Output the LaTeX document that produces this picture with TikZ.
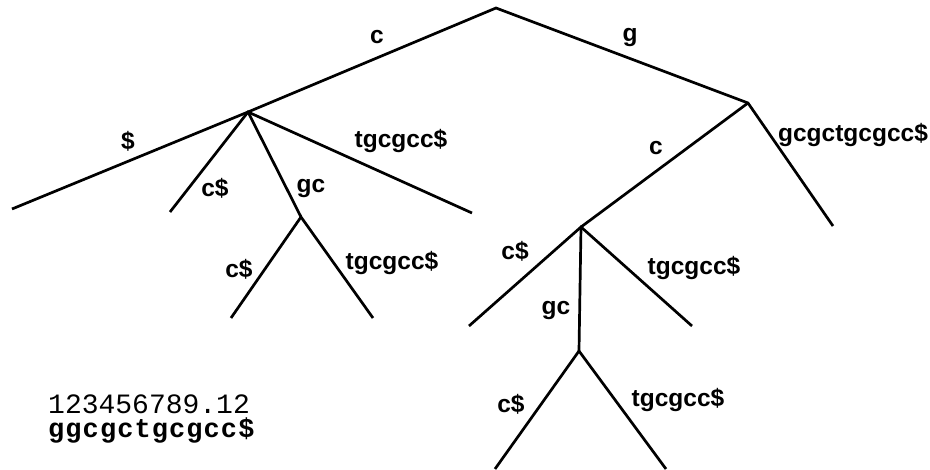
\documentclass[tikz,border=0pt]{standalone}
\usepackage{fontspec}
\setmainfont{Liberation Sans}
\newfontfamily\monofont{Liberation Mono}
\newfontfamily\monoboldfont[LetterSpace=4]{Liberation Mono Bold}
\tikzset{
  edge/.style={line width=2.7pt, line cap=butt, line join=miter},
  lbl/.style={font=\fontsize{24.5}{24.5}\selectfont\bfseries, anchor=base, inner sep=0pt},
  mono/.style={font=\fontsize{28}{28}\monofont, anchor=base west, inner sep=0pt},
  monob/.style={font=\fontsize{27}{27}\monoboldfont, anchor=base west, inner sep=0pt}
}
\begin{document}
\begin{tikzpicture}[x=1pt,y=-1pt]
\useasboundingbox (0,0) rectangle (930,470);
% tree nodes
\coordinate (R) at (496,8);
\coordinate (A) at (248,112);
\coordinate (B) at (748,103);
\coordinate (A2) at (301,217);
\coordinate (B2) at (581,227);
\coordinate (B3) at (579,351);
% leaves
\coordinate (l1) at (12,209);
\coordinate (l2) at (170,212);
\coordinate (l3) at (472,213);
\coordinate (l4) at (231,318);
\coordinate (l5) at (373,318);
\coordinate (l6) at (833,226);
\coordinate (l7) at (469,326);
\coordinate (l8) at (692,326);
\coordinate (l9) at (495,469);
\coordinate (l10) at (666,469);
% edges
\draw[edge] (l1) -- (A) -- (R) -- (B) -- (l6);
\draw[edge] (l2) -- (A) -- (l3);
\draw[edge] (A) -- (A2);
\draw[edge] (l4) -- (A2) -- (l5);
\draw[edge] (B) -- (B2);
\draw[edge] (l7) -- (B2) -- (l8);
\draw[edge] (B2) -- (B3);
\draw[edge] (l9) -- (B3) -- (l10);
% labels
\node[lbl] (tc) at (377,44) {c};
\node[lbl] (tg) at (630,42) {g};
\node[lbl] (td) at (128,150) {\$};
\node[lbl] (ta1) at (215,197) {c\$};
\node[lbl] (ta2) at (311,193) {gc};
\node[lbl] (ta3) at (401,148) {tgcgcc\$};
\node[lbl] (ta4) at (239,278) {c\$};
\node[lbl] (ta5) at (392,270) {tgcgcc\$};
\node[lbl] (tb1) at (656,155) {c};
\node[lbl] (tb2) at (853,142) {gcgctgcgcc\$};
\node[lbl] (tb3) at (515,260) {c\$};
\node[lbl] (tb4) at (694,275) {tgcgcc\$};
\node[lbl] (tb5) at (556,315) {gc};
\node[lbl] (tb6) at (511,413) {c\$};
\node[lbl] (tb7) at (678,407) {tgcgcc\$};
% sequence
\node[mono] (num) at (48,414) {123456789.12};
\node[monob] (seq) at (48,438) {ggcgctgcgcc\$};
\end{tikzpicture}
\end{document}
